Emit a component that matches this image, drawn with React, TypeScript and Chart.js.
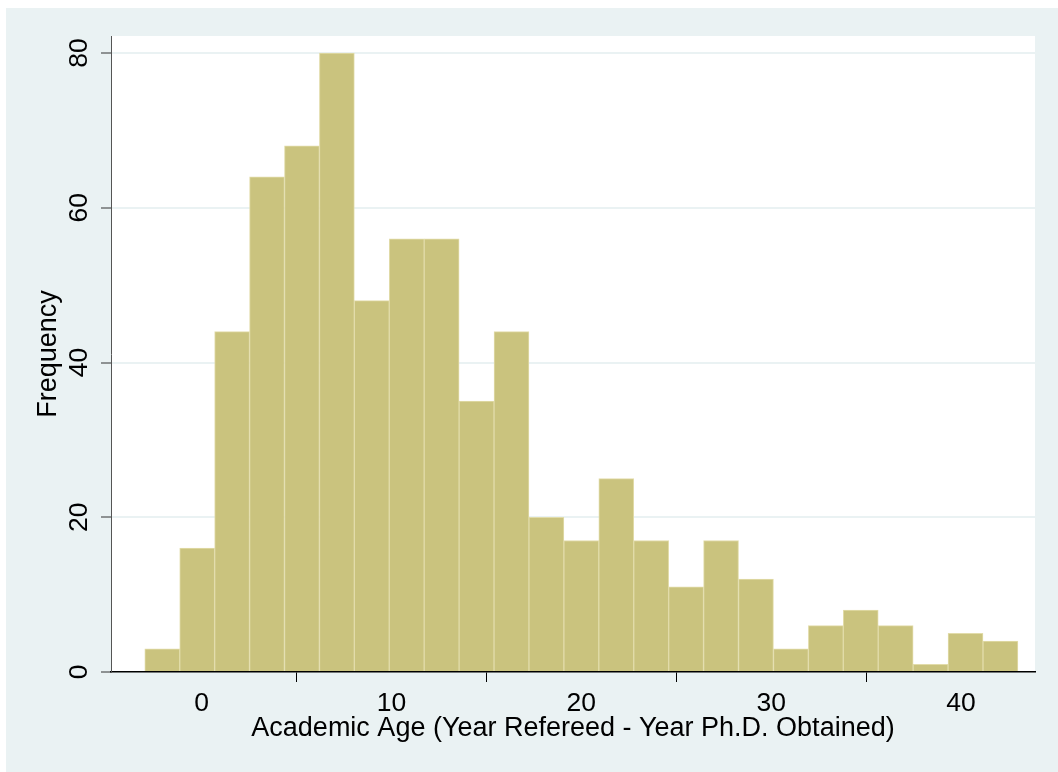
import React, { useEffect, useRef } from "react";
import { Chart, registerables } from "chart.js";

Chart.register(...registerables);

// Histogram bins (bin centres, width 1.84) and frequencies
const binCenters = [
  -2.08, -0.24, 1.6, 3.44, 5.28, 7.12, 8.96, 10.8, 12.64, 14.48, 16.32, 18.16, 20.0,
  21.84, 23.68, 25.52, 27.36, 29.2, 31.04, 32.88, 34.72, 36.56, 38.4, 40.24, 42.08,
];
const frequencies = [
  3, 16, 44, 64, 68, 80, 48, 56, 56, 35, 44, 20, 17, 25, 17, 11, 17, 12, 3, 6, 8, 6, 1, 5, 4,
];
const xTickValues = [0, 10, 20, 30, 40];
const yTickValues = [0, 20, 40, 60, 80];
const xTitle = "Academic Age (Year Refereed - Year Ph.D. Obtained)";
const yTitle = "Frequency";

const FONT = "'Liberation Sans', Arial, Helvetica, sans-serif";
const OUTER_BG = "#eaf2f3";
const BAR_FILL = "#cac37e";
const BAR_EDGE = "#e2dcaa";

export default function App() {
  const ref = useRef<HTMLCanvasElement>(null);

  useEffect(() => {
    const canvas = ref.current;
    if (!canvas) return;

    const backgroundPlugin = {
      id: "stataBackground",
      beforeDraw(chart: any) {
        const { ctx, chartArea: a, width, height } = chart;
        ctx.save();
        ctx.fillStyle = OUTER_BG;
        ctx.fillRect(0, 0, width, height);
        ctx.fillStyle = "#ffffff";
        ctx.fillRect(a.left, a.top, a.right - a.left, a.bottom - a.top);
        ctx.restore();
      },
    };

    const yLabelPlugin = {
      id: "rotatedYLabels",
      afterDraw(chart: any) {
        const { ctx } = chart;
        const s = chart.scales.y;
        ctx.save();
        ctx.fillStyle = "#000000";
        ctx.font = `26.5px ${FONT}`;
        ctx.textAlign = "center";
        ctx.textBaseline = "middle";
        for (const v of yTickValues) {
          const py = s.getPixelForValue(v);
          ctx.save();
          ctx.translate(s.right - 31, py);
          ctx.rotate(-Math.PI / 2);
          ctx.fillText(String(v), 0, 0);
          ctx.restore();
        }
        ctx.restore();
      },
    };

    const chart = new Chart(canvas, {
      type: "bar",
      data: {
        datasets: [
          {
            data: binCenters.map((x, i) => ({ x, y: frequencies[i] })),
            backgroundColor: BAR_FILL,
            borderColor: BAR_EDGE,
            borderWidth: 1,
            categoryPercentage: 1,
            barPercentage: 1,
          },
        ],
      },
      options: {
        responsive: false,
        animation: false,
        devicePixelRatio: 1,
        layout: { padding: { left: 0, top: 28, right: 23, bottom: 0 } },
        plugins: {
          legend: { display: false },
          tooltip: { enabled: false },
        },
        scales: {
          x: {
            type: "linear",
            position: "bottom",
            min: -4.78,
            max: 43.9,
            offset: false,
            z: 1,
            afterBuildTicks(scale: any) {
              scale.ticks = xTickValues.map((value) => ({ value }));
            },
            afterFit(scale: any) {
              scale.height = 100;
            },
            grid: {
              drawOnChartArea: false,
              drawTicks: true,
              tickLength: 10,
              tickColor: "#000000",
              tickWidth: 1,
            },
            border: { display: true, color: "#000000", width: 1.5 },
            ticks: {
              autoSkip: false,
              maxRotation: 0,
              minRotation: 0,
              padding: 6,
              color: "#000000",
              font: { family: FONT, size: 26.5 },
              callback: (v: any) => String(v),
            },
            title: {
              display: true,
              text: xTitle,
              color: "#000000",
              font: { family: FONT, size: 27 },
              padding: { top: 0, bottom: 27 },
            },
          },
          y: {
            type: "linear",
            position: "left",
            min: 0,
            max: 82.2,
            afterBuildTicks(scale: any) {
              scale.ticks = yTickValues.map((value) => ({ value }));
            },
            afterFit(scale: any) {
              scale.width = 105;
            },
            grid: {
              drawOnChartArea: true,
              drawTicks: true,
              tickLength: 10,
              color: (c: any) => (c.tick && c.tick.value === 0 ? "rgba(0,0,0,0)" : OUTER_BG),
              lineWidth: 2,
              tickColor: "#333333",
              tickWidth: 1,
            },
            border: { display: true, color: "#555555", width: 1 },
            ticks: { display: false },
            title: {
              display: true,
              text: yTitle,
              color: "#000000",
              font: { family: FONT, size: 27 },
              padding: { top: 26.5, bottom: 0 },
            },
          },
        },
      },
      plugins: [backgroundPlugin, yLabelPlugin],
    });

    return () => chart.destroy();
  }, []);

  return (
    <div
      style={{
        position: "fixed",
        left: 6,
        top: 8,
        right: 0,
        bottom: 0,
        background: OUTER_BG,
        overflow: "hidden",
      }}
    >
      <canvas ref={ref} width={1052} height={764} style={{ display: "block" }} />
    </div>
  );
}
